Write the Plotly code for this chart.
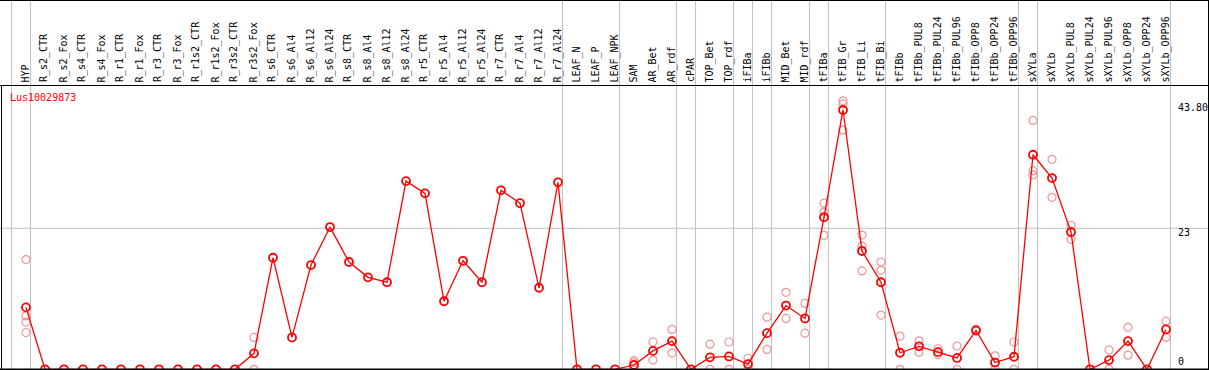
import plotly.graph_objects as go

categories = ["HYP", "R_s2_CTR", "R_s2_Fox", "R_s4_CTR", "R_s4_Fox", "R_r1_CTR", "R_r1_Fox",
              "R_r3_CTR", "R_r3_Fox", "R_r1s2_CTR", "R_r1s2_Fox", "R_r3s2_CTR", "R_r3s2_Fox",
              "R_s6_CTR", "R_s6_Al4", "R_s6_Al12", "R_s6_Al24", "R_s8_CTR", "R_s8_Al4",
              "R_s8_Al12", "R_s8_Al24", "R_r5_CTR", "R_r5_Al4", "R_r5_Al12", "R_r5_Al24",
              "R_r7_CTR", "R_r7_Al4", "R_r7_Al12", "R_r7_Al24", "LEAF_N", "LEAF_P", "LEAF_NPK",
              "SAM", "AR_Bet", "AR_rdf", "cPAR", "TOP_Bet", "TOP_rdf", "iFIBa", "iFIBb",
              "MID_Bet", "MID_rdf", "tFIBa", "tFIB_Gr", "tFIB_Li", "tFIB_Bi", "tFIBb",
              "tFIBb_PUL8", "tFIBb_PUL24", "tFIBb_PUL96", "tFIBb_OPP8", "tFIBb_OPP24",
              "tFIBb_OPP96", "sXYLa", "sXYLb", "sXYLb_PUL8", "sXYLb_PUL24", "sXYLb_PUL96",
              "sXYLb_OPP8", "sXYLb_OPP24", "sXYLb_OPP96"]

mean_values = [10.1, 0, 0, 0, 0, 0, 0, 0, 0, 0, 0, 0, 2.6,
               18.2, 5.2, 17.0, 23.2, 17.5, 15.0, 14.2, 30.7, 28.7, 11.1, 17.7, 14.2,
               29.2, 27.1, 13.3, 30.5, 0, 0, 0,
               0.7, 3.0, 4.6, 0, 1.95, 2.1, 0.85, 5.9, 10.4, 8.3,
               24.8, 42.3, 19.3, 14.2, 2.7, 3.75, 2.8, 1.85, 6.35, 1.1, 2.05,
               35.0, 31.2, 22.4, 0, 1.5, 4.6, 0, 6.5]

replicates = {
    "HYP": [17.9, 8.7, 7.7, 6.0],
    "R_r3s2_Fox": [5.2, 0],
    "SAM": [1.4, 1.1],
    "AR_Bet": [4.45, 1.5],
    "AR_rdf": [6.5, 2.65],
    "TOP_Bet": [4.1, 0],
    "TOP_rdf": [4.45, 0],
    "iFIBa": [1.8, 0],
    "iFIBb": [8.5, 3.25],
    "MID_Bet": [12.55, 8.3],
    "MID_rdf": [10.75, 5.9],
    "tFIBa": [27.1, 25.65, 21.85],
    "tFIB_Gr": [43.8, 43.3, 39.0],
    "tFIB_Li": [21.9, 20.1, 16.05],
    "tFIB_Bi": [17.5, 16.15, 8.85],
    "tFIBb": [5.4, 0],
    "tFIBb_PUL8": [4.65, 2.8],
    "tFIBb_PUL24": [3.35, 2.4],
    "tFIBb_PUL96": [3.8, 0],
    "tFIBb_OPP8": [6.5, 6.25],
    "tFIBb_OPP24": [2.2, 0],
    "tFIBb_OPP96": [4.45, 0],
    "sXYLa": [40.6, 32.4, 31.7],
    "sXYLb": [34.25, 28.05],
    "sXYLb_PUL8": [23.5, 21.2],
    "sXYLb_PUL96": [3.15, 0],
    "sXYLb_OPP8": [6.85, 2.3],
    "sXYLb_OPP96": [7.85, 5.2],
}

# group separators: drawn just after these category indices
separators_after = [-1, 0, 28, 31, 34, 35, 37, 38, 39, 41, 42, 45, 52, 53, 60]

y_ticks = [0, 23, 43.80]
y_tick_labels = ["0", "23", "43.80"]
title_text = "Lus10029873"

# ---------------- layout geometry (pixels) ----------------
W, H = 1209, 370
PX_PER_CAT = 19.0
FIRST_CAT_PX = 26.0
ZERO_PX = 369.3
GRID23_PX = 228.3
HEADER_PX = 85.5

s = (ZERO_PX - GRID23_PX) / 23.0
y0 = -(H - ZERO_PX) / s
y1 = y0 + H / s
x0 = -FIRST_CAT_PX / PX_PER_CAT
x1 = x0 + W / PX_PER_CAT


def py(pix):  # pixel-from-top -> paper y
    return 1 - pix / H


def px(pix):
    return pix / W


idx = list(range(len(categories)))
rep_x, rep_y = [], []
for i, c in enumerate(categories):
    for v in replicates.get(c, []):
        rep_x.append(i)
        rep_y.append(v)

fig = go.Figure()
fig.add_trace(go.Scatter(
    x=rep_x, y=rep_y, mode="markers",
    marker=dict(symbol="circle-open", size=8, color="rgb(238,150,150)",
                line=dict(width=1.2, color="rgb(238,150,150)")),
    hoverinfo="skip", showlegend=False, cliponaxis=False))
fig.add_trace(go.Scatter(
    x=idx, y=mean_values, mode="lines+markers",
    line=dict(color="#ff0000", width=1.3),
    marker=dict(symbol="circle-open", size=8, color="#ff0000",
                line=dict(width=1.8, color="#ff0000")),
    hoverinfo="skip", showlegend=False, cliponaxis=False))

shapes = []
# gray vertical separators (full height)
for k in separators_after:
    xv = k + 0.24
    shapes.append(dict(type="line", xref="x", yref="paper", x0=xv, x1=xv, y0=0, y1=1,
                       line=dict(color="#c0c0c0", width=1), layer="below"))
# gray gridline at 23
shapes.append(dict(type="line", xref="paper", yref="y", x0=0, x1=1, y0=23, y1=23,
                   line=dict(color="#c0c0c0", width=1), layer="below"))
# black frame lines
shapes.append(dict(type="line", xref="paper", yref="paper", x0=0, x1=1,
                   y0=py(0.5), y1=py(0.5), line=dict(color="black", width=1)))
shapes.append(dict(type="line", xref="paper", yref="paper", x0=0, x1=1,
                   y0=py(HEADER_PX), y1=py(HEADER_PX), line=dict(color="black", width=1)))
shapes.append(dict(type="line", xref="paper", yref="paper", x0=0, x1=1,
                   y0=py(369.5), y1=py(369.5), line=dict(color="black", width=2)))
shapes.append(dict(type="line", xref="paper", yref="paper", x0=px(1.5), x1=px(1.5),
                   y0=0, y1=py(HEADER_PX), line=dict(color="black", width=1)))
shapes.append(dict(type="line", xref="paper", yref="paper", x0=px(1208.5), x1=px(1208.5),
                   y0=0, y1=1, line=dict(color="black", width=1)))

annotations = []
mono = "DejaVu Sans Mono"
for i, c in enumerate(categories):
    annotations.append(dict(text=c, x=i - 0.05, xref="x", y=py(83.5), yref="paper",
                            xanchor="center", yanchor="bottom", textangle=-90,
                            showarrow=False, font=dict(family=mono, size=10, color="black"),
                            borderpad=0))
annotations.append(dict(text=title_text, x=px(9), xref="paper", y=py(97.3), yref="paper",
                        xanchor="left", yanchor="middle", showarrow=False,
                        font=dict(family=mono, size=10, color="#ff0000"), borderpad=0))
tick_px = {0: 361.7, 23: 232.0, 43.80: 107.3}
for v, lab in zip(y_ticks, y_tick_labels):
    annotations.append(dict(text=lab, x=px(1177), xref="paper", y=py(tick_px[v]), yref="paper",
                            xanchor="left", yanchor="middle", showarrow=False,
                            font=dict(family=mono, size=10, color="black"), borderpad=0))

fig.update_layout(
    width=W, height=H, autosize=False,
    margin=dict(l=0, r=0, t=0, b=0, pad=0),
    paper_bgcolor="white", plot_bgcolor="white",
    xaxis=dict(range=[x0, x1], visible=False, showgrid=False, zeroline=False, fixedrange=True),
    yaxis=dict(range=[y0, y1], visible=False, showgrid=False, zeroline=False, fixedrange=True),
    shapes=shapes, annotations=annotations, showlegend=False,
)

fig.write_html("out.html", config={"displayModeBar": False},
               post_script="document.body.style.margin='0';document.body.style.overflow='hidden';")
